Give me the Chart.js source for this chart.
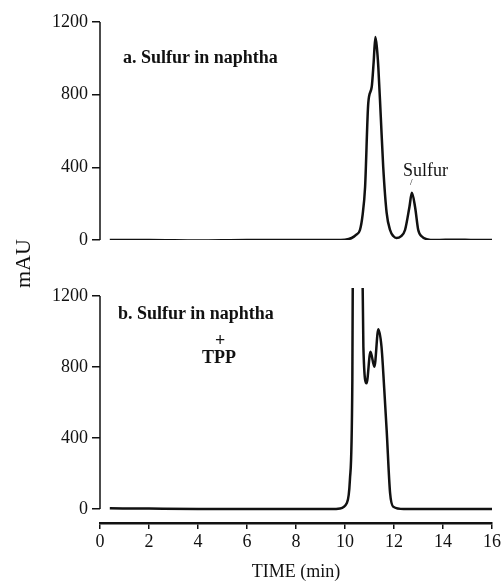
<!DOCTYPE html>
<html>
<head>
<meta charset="utf-8">
<script src="https://cdn.jsdelivr.net/npm/chart.js@4"></script>
<style>
  body { margin: 0; background: #fff; }
  #wrap { position: relative; width: 504px; height: 583px; font-family: "Liberation Serif", "DejaVu Serif", serif; color: #111; }
  canvas { position: absolute; left: 0; }
  .lbl { position: absolute; white-space: nowrap; line-height: 1; }
</style>
</head>
<body>
<div id="wrap">
  <canvas id="chartA" width="504" height="260" style="top:0"></canvas>
  <canvas id="chartB" width="504" height="323" style="top:260px"></canvas>
  <div class="lbl" style="left:123px; top:48px; font-size:18px; font-weight:bold;">a. Sulfur in naphtha</div>
  <div class="lbl" style="left:403px; top:161px; font-size:18px;">Sulfur</div>
  <div class="lbl" style="left:410px; top:178px; font-size:9px;">/</div>
  <div class="lbl" style="left:118px; top:304px; font-size:18px; font-weight:bold;">b. Sulfur in naphtha</div>
  <div class="lbl" style="left:215px; top:331px; font-size:18px; font-weight:bold;">+</div>
  <div class="lbl" style="left:202px; top:348px; font-size:18px; font-weight:bold;">TPP</div>
  <div class="lbl" style="left:12px; top:288px; font-size:22px; transform:rotate(-90deg); transform-origin:left top;">mAU</div>
</div>
<script>
// panel a: sulfur in naphtha
const timeA = [0.4, 2, 4, 6, 8, 9.6, 10.0, 10.27, 10.45, 10.61, 10.72, 10.82, 10.95, 11.09, 11.17, 11.24, 11.3, 11.36, 11.46, 11.56, 11.70, 11.84, 11.97, 12.1, 12.28, 12.45, 12.63, 12.73, 12.86, 12.99, 13.15, 13.33, 13.7, 14.5, 15.3, 16];
const mauA  = [0, 0, -3, 0, 0, 0, 2, 11, 28, 55, 140, 292, 754, 842, 980, 1117, 1060, 952, 680, 402, 149, 55, 22, 11, 20, 55, 182, 260, 182, 55, 18, 5, 0, 2, 0, 0];

// panel b: sulfur in naphtha + TPP (main peak runs off the top)
const timeB = [0.4, 2, 4, 6, 8, 9.5, 9.8, 10.07, 10.2, 10.3, 10.34, 10.5, 10.66, 10.75, 10.88, 11.04, 11.2, 11.36, 11.49, 11.6, 11.7, 11.84, 11.97, 12.4, 13, 14, 15, 16];
const mauB  = [4, 2, 0, 0, 0, 0, 3, 32, 163, 727, 2000, 2600, 2000, 914, 708, 886, 802, 1013, 914, 680, 445, 90, 13, 0, 0, 0, 0, 0];

const yTicks = [0, 400, 800, 1200];
const xTicks = [0, 2, 4, 6, 8, 10, 12, 14, 16];

const ink = "#111";
const tickFont = { family: "Liberation Serif", size: 18 };

function points(xs, ys) {
  return xs.map((x, i) => ({ x: x, y: ys[i] }));
}

// y axis line only from 0 to 1200
const yAxisLine = {
  id: "yAxisLine",
  afterDraw(chart) {
    const y = chart.scales.y;
    const c = chart.ctx;
    c.save();
    c.strokeStyle = ink;
    c.lineWidth = 1.5;
    c.beginPath();
    c.moveTo(y.right, y.getPixelForValue(0));
    c.lineTo(y.right, y.getPixelForValue(1200));
    c.stroke();
    c.restore();
  }
};

function yScale(min, max) {
  return {
    min: min, max: max,
    afterBuildTicks: s => { s.ticks = yTicks.map(v => ({ value: v })); },
    afterFit: s => { s.width = 100; },
    border: { display: false },
    grid: { drawOnChartArea: false, color: ink, lineWidth: 1.5, tickLength: 8 },
    ticks: { color: ink, font: tickFont, padding: 4, callback: v => String(v) }
  };
}

function lineSet(data) {
  return {
    data: data,
    borderColor: ink,
    borderWidth: 2.5,
    pointRadius: 0,
    fill: false,
    cubicInterpolationMode: "monotone"
  };
}

new Chart(document.getElementById("chartA"), {
  type: "line",
  data: { datasets: [lineSet(points(timeA, mauA))] },
  options: {
    responsive: false,
    animation: false,
    layout: { padding: { top: 22, right: 12, bottom: 20, left: 0 } },
    plugins: { legend: { display: false }, tooltip: { enabled: false } },
    scales: {
      x: { type: "linear", min: 0, max: 16, display: false },
      y: yScale(0, 1200)
    }
  },
  plugins: [yAxisLine]
});

new Chart(document.getElementById("chartB"), {
  type: "line",
  data: { datasets: [lineSet(points(timeB, mauB))] },
  options: {
    responsive: false,
    animation: false,
    layout: { padding: { top: 28, right: 12, bottom: 0, left: 0 } },
    plugins: { legend: { display: false }, tooltip: { enabled: false } },
    scales: {
      x: {
        type: "linear", min: 0, max: 16,
        afterBuildTicks: s => { s.ticks = xTicks.map(v => ({ value: v })); },
        afterFit: s => { s.height = 60; },
        border: { color: ink, width: 2.5 },
        grid: { drawOnChartArea: false, color: ink, lineWidth: 1.5, tickLength: 6 },
        ticks: { color: ink, font: tickFont, padding: 2, maxRotation: 0 },
        title: { display: true, text: "TIME (min)", color: ink, font: { family: "Liberation Serif", size: 18 }, padding: { top: 0, bottom: 0 } }
      },
      y: yScale(-79, 1245)
    }
  },
  plugins: [yAxisLine]
});
</script>
</body>
</html>
